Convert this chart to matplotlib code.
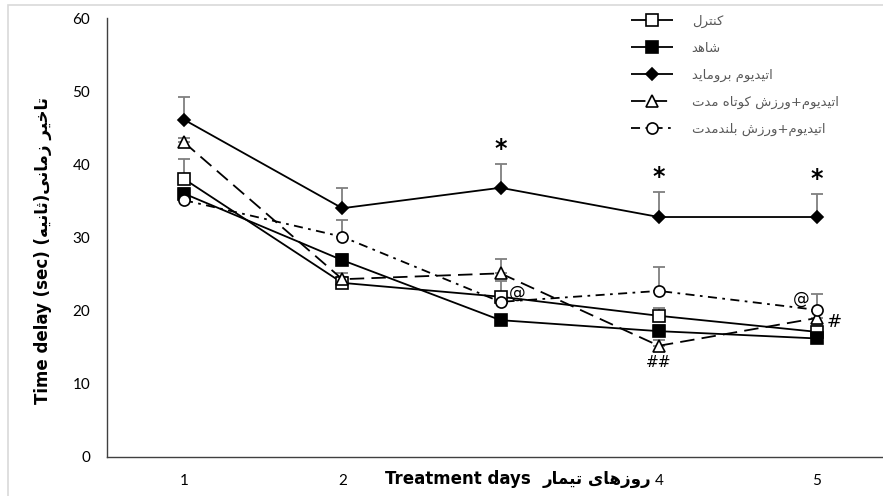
import matplotlib
matplotlib.use("Agg")
import matplotlib.pyplot as plt
from matplotlib import font_manager
from matplotlib.lines import Line2D
from matplotlib.patches import Rectangle
import numpy as np

# data
days = ["1", "2", "3", "4", "5"]
control = [38.0, 23.8, 21.9, 19.3, 17.1]
control_err = [2.7, 0.8, 2.1, 1.0, 1.0]
sham = [36.0, 26.9, 18.7, 17.2, 16.2]
sham_err = [0.8, 0.8, 0.6, 0.8, 0.6]
ethidium = [46.1, 34.0, 36.8, 32.8, 32.8]
ethidium_err = [3.1, 2.8, 3.3, 3.4, 3.2]
short_ex = [43.0, 24.3, 25.1, 15.2, 19.0]
short_ex_err = [0.6, 0.8, 2.0, 0.8, 1.0]
long_ex = [35.1, 30.1, 21.2, 22.7, 20.1]
long_ex_err = [0.5, 2.3, 1.0, 3.3, 2.2]

labels = ["کنترل", "شاهد", "اتیدیوم بروماید",
          "اتیدیوم+ورزش کوتاه مدت", "اتیدیوم+ورزش بلندمدت"]
ylabel_en = "Time delay (sec) "
ylabel_fa = "تاخیر زمانی(ثانیه)"
xlabel_en = "Treatment days"
xlabel_fa = "روزهای تیمار"

# (isolated, final, initial, medial) presentation forms
FORMS = {
    "ا": ("\uFE8D", "\uFE8E", None, None),
    "ب": ("\uFE8F", "\uFE90", "\uFE91", "\uFE92"),
    "ت": ("\uFE95", "\uFE96", "\uFE97", "\uFE98"),
    "ث": ("\uFE99", "\uFE9A", "\uFE9B", "\uFE9C"),
    "خ": ("\uFEA5", "\uFEA6", "\uFEA7", "\uFEA8"),
    "د": ("\uFEA9", "\uFEAA", None, None),
    "ر": ("\uFEAD", "\uFEAE", None, None),
    "ز": ("\uFEAF", "\uFEB0", None, None),
    "ش": ("\uFEB5", "\uFEB6", "\uFEB7", "\uFEB8"),
    "ل": ("\uFEDD", "\uFEDE", "\uFEDF", "\uFEE0"),
    "م": ("\uFEE1", "\uFEE2", "\uFEE3", "\uFEE4"),
    "ن": ("\uFEE5", "\uFEE6", "\uFEE7", "\uFEE8"),
    "ه": ("\uFEE9", "\uFEEA", "\uFEEB", "\uFEEC"),
    "و": ("\uFEED", "\uFEEE", None, None),
    "ی": ("\uFBFC", "\uFBFD", "\uFBFE", "\uFBFF"),
    "ک": ("\uFB8E", "\uFB8F", "\uFB90", "\uFB91"),
}


def fa(s):
    """Join Persian letters and lay them out right to left."""
    out = []
    for i, ch in enumerate(s):
        if ch not in FORMS:
            out.append(ch)
            continue
        iso, fin, ini, med = FORMS[ch]
        prev = s[i - 1] if i > 0 else ""
        nxt = s[i + 1] if i + 1 < len(s) else ""
        jp = prev in FORMS and FORMS[prev][2] is not None
        jn = ini is not None and nxt in FORMS
        if jp and jn:
            out.append(med)
        elif jp:
            out.append(fin)
        elif jn:
            out.append(ini)
        else:
            out.append(iso)
    return "".join(out)[::-1].translate(str.maketrans("()", ")("))


installed = {f.name for f in font_manager.fontManager.ttflist}
tick_font = "Lato" if "Lato" in installed else "DejaVu Sans"

plt.rcParams["font.family"] = ["DejaVu Sans"]

fig = plt.figure(figsize=(8.83, 4.96), dpi=100)
ax = fig.add_axes([107 / 883, 39 / 496, 776 / 883, 439 / 496])

x = np.arange(len(days))
err_kw = dict(fmt="none", ecolor="#7f7f7f", elinewidth=1.3, capsize=4.5,
              capthick=1.3, zorder=2)
series = [
    (control, control_err, "s", "white", (0, ())),
    (sham, sham_err, "s", "black", (0, ())),
    (ethidium, ethidium_err, "D", "black", (0, ())),
    (short_ex, short_ex_err, "^", "white", (0, (8, 4))),
    (long_ex, long_ex_err, "o", "white", (0, (5, 3, 1.5, 3))),
]
handles = []
for (vals, err, mk, fc, ls), lab in zip(series, labels):
    ax.errorbar(x, vals, yerr=[np.zeros(len(err)), err], **err_kw)
    ms = 6 if mk == "D" else 8
    ax.plot(x, vals, color="black", lw=1.3, linestyle=ls, marker=mk,
            markersize=ms, markerfacecolor=fc, markeredgecolor="black",
            markeredgewidth=1.2, zorder=3)
    handles.append(Line2D([], [], color="black", lw=1.3, linestyle=ls,
                          marker=mk, markersize=ms, markerfacecolor=fc,
                          markeredgecolor="black", markeredgewidth=1.2,
                          label=fa(lab)))

# significance marks
for i in [2, 3, 4]:
    ax.text(i, ethidium[i] + ethidium_err[i] + 0.4, "*", ha="center",
            va="bottom", fontsize=17, fontweight="bold")
ax.text(2.05, control[2] + 0.6, "@", ha="left", va="center", fontsize=12)
ax.text(3, short_ex[3] - 1.2, "##", ha="center", va="top", fontsize=11)
ax.text(3.9, long_ex[4] + 1.5, "@", ha="center", va="center", fontsize=12)
ax.text(4.06, 18.4, "#", ha="left", va="center", fontsize=13)

ax.set_xlim(-0.487, 4.417)
ax.set_ylim(0, 60)
ax.set_yticks(np.arange(0, 61, 10))
ax.set_xticks(x)
ax.set_xticklabels(days)
ax.tick_params(axis="both", length=0, labelsize=11, colors="black")
ax.tick_params(axis="y", pad=12)
ax.tick_params(axis="x", pad=12)
for t in ax.get_xticklabels() + ax.get_yticklabels():
    t.set_family(tick_font)
# in the original the axis title sits on top of the "3"
ax.get_xticklabels()[2].set_visible(False)
for side in ["top", "right"]:
    ax.spines[side].set_visible(False)
for side in ["left", "bottom"]:
    ax.spines[side].set_linewidth(1.0)
    ax.spines[side].set_color("#404040")

# x axis title on the tick label row, between "2" and "4"
t_fa = ax.text(2.955, -0.05, fa(xlabel_fa), transform=ax.get_xaxis_transform(),
               ha="right", va="center", fontsize=12, fontweight="bold")
ax.annotate(xlabel_en, xy=(0, 0.5), xycoords=t_fa, xytext=(-9, 0),
            textcoords="offset points", ha="right", va="center",
            fontsize=12, fontweight="bold")

ax.set_ylabel(ylabel_en + fa(ylabel_fa), fontsize=12, fontweight="bold")
ax.yaxis.set_label_coords(-0.071, 0.47)

leg = ax.legend(handles=handles, loc="upper left",
                bbox_to_anchor=(0.66, 1.035), frameon=False, fontsize=9.5,
                handlelength=3.2, labelspacing=1.05, handletextpad=1.4)
for t in leg.get_texts():
    t.set_color("#595959")

fig.patches.append(Rectangle((8 / 883, -0.1), 1.2, 0.1 + 491 / 496,
                             transform=fig.transFigure, fill=False,
                             edgecolor="#d9d9d9", lw=1.2, zorder=0))

fig.savefig("out.png", dpi=100)
